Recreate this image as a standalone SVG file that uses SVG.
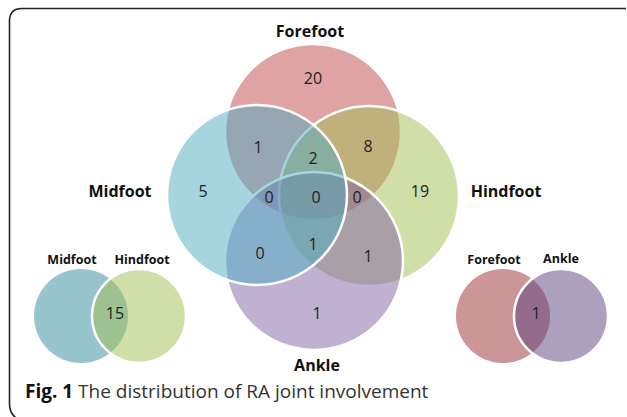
<svg xmlns="http://www.w3.org/2000/svg" width="627" height="417" viewBox="0 0 627 417">
<style>
.c{fill-opacity:0.5;stroke:#fff;stroke-width:2.5}
.lb{font-family:"Open Sans","Liberation Sans",sans-serif;font-weight:bold;font-size:16px;fill:#111;text-anchor:middle}
.sl{font-family:"Open Sans","Liberation Sans",sans-serif;font-weight:bold;font-size:12.5px;fill:#111;text-anchor:middle}
.n{font-family:"Open Sans","Liberation Sans",sans-serif;font-size:16px;fill:#222;text-anchor:middle}
.cap{font-family:"Open Sans","Liberation Sans",sans-serif;font-size:19px;fill:#333}
</style>
<rect width="627" height="417" fill="#fff"/>
<path d="M626 8.5 H22 Q9.5 8.5 9.5 21 V404 Q9.5 413 16 418" fill="none" stroke="#222" stroke-width="1.6"/>
<g id="forefoot"><circle class="c" cx="313" cy="132" r="88" fill="#bf4749"/></g>
<g id="hindfoot"><circle class="c" cx="369" cy="196" r="90" fill="#a1bd51"/></g>
<g id="ankle"><circle class="c" cx="314" cy="261" r="89" fill="#8161a5"/></g>
<g id="midfoot"><circle class="c" cx="257" cy="195" r="90" fill="#4dabc1"/></g>
<g id="labels">
<text class="lb" x="310" y="37">Forefoot</text>
<text class="lb" x="120" y="197">Midfoot</text>
<text class="lb" x="506" y="197">Hindfoot</text>
<text class="lb" x="317" y="371">Ankle</text>
</g>
<g id="counts">
<text class="n" x="313" y="84">20</text>
<text class="n" x="258" y="153">1</text>
<text class="n" x="368" y="152">8</text>
<text class="n" x="313" y="164">2</text>
<text class="n" x="203" y="197">5</text>
<text class="n" x="420" y="197">19</text>
<text class="n" x="269" y="203">0</text>
<text class="n" x="316" y="203">0</text>
<text class="n" x="357" y="203">0</text>
<text class="n" x="260" y="259">0</text>
<text class="n" x="313" y="250">1</text>
<text class="n" x="368" y="262">1</text>
<text class="n" x="317" y="319">1</text>
</g>
<g id="venn-midfoot-hindfoot">
<circle cx="81" cy="316" r="47" fill="#31899d" fill-opacity="0.5"/>
<circle class="c" cx="139" cy="316" r="47" fill="#a1bd51"/>
<text class="sl" x="72" y="264">Midfoot</text>
<text class="sl" x="142" y="264">Hindfoot</text>
<text class="n" x="115" y="319">15</text>
</g>
<g id="venn-forefoot-ankle">
<circle cx="503" cy="316" r="47" fill="#992d31" fill-opacity="0.5"/>
<circle class="c" cx="561" cy="316" r="47" fill="#59417d"/>
<text class="sl" x="494" y="264">Forefoot</text>
<text class="sl" x="561" y="263">Ankle</text>
<text class="n" x="536" y="319">1</text>
</g>
<text class="cap" x="25" y="398"><tspan font-weight="bold" fill="#111">Fig. 1</tspan> The distribution of RA joint involvement</text>
</svg>
